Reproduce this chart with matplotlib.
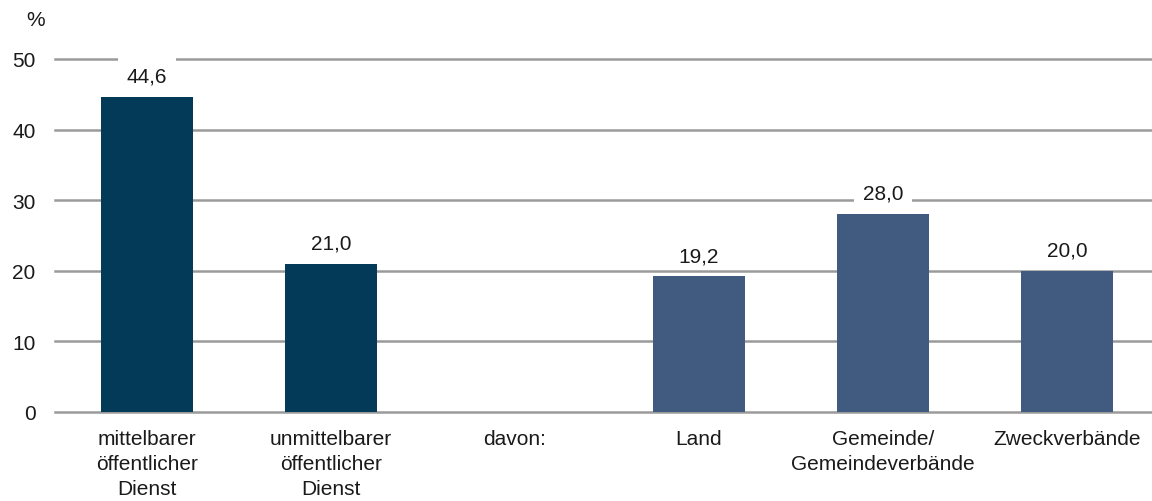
import numpy as np
import matplotlib.pyplot as plt
from matplotlib.patches import Rectangle

plt.rcParams['font.family'] = ['Liberation Sans', 'DejaVu Sans']

categories = ['mittelbarer\nöffentlicher\nDienst', 'unmittelbarer\nöffentlicher\nDienst',
              'davon:', 'Land', 'Gemeinde/\nGemeindeverbände', 'Zweckverbände']
values = [44.6, 21.0, np.nan, 19.2, 28.0, 20.0]
labels = ['44,6', '21,0', '', '19,2', '28,0', '20,0']
colors = ['#023a58', '#023a58', '#ffffff', '#415a80', '#415a80', '#415a80']
yticks = [0, 10, 20, 30, 40, 50]

fig = plt.figure(figsize=(11.52, 5.02), dpi=100)
ax = fig.add_axes([55 / 1152, 89 / 502, 1104 / 1152, 353 / 502])

x = np.arange(len(categories))
ax.bar(x, np.nan_to_num(values), width=0.495, color=colors, zorder=3)

for xi, v, lab in zip(x, values, labels):
    if lab:
        # white background behind the value label (cuts the gridlines)
        ax.add_patch(Rectangle((xi - 0.155, v + 1.3), 0.31, 4.5, fc='white', ec='none',
                               zorder=2, clip_on=False))
        ax.annotate(lab, (xi, v), xytext=(0, 15), textcoords='offset points',
                    ha='center', va='center', fontsize=15, color='#1a1a1a', zorder=4)

ax.set_xlim(-0.5, 5.5)
ax.set_ylim(0, 50)
ax.set_yticks(yticks)
ax.set_xticks(x)
ax.set_xticklabels(categories, fontsize=15, linespacing=1.4)
ax.tick_params(axis='y', length=0, pad=14, labelsize=15, labelcolor='#1a1a1a')
ax.tick_params(axis='x', length=0, pad=12, labelcolor='#1a1a1a')
ax.grid(axis='y', color='#9a9a9a', linewidth=1.8, zorder=1)
for gl in ax.get_ygridlines():
    gl.set_clip_on(False)
ax.set_axisbelow(True)
for s in ax.spines.values():
    s.set_visible(False)

fig.text(36 / 1152, 1 - 20 / 502, '%', ha='center', va='center', fontsize=15, color='#1a1a1a')

fig.savefig('out.png', dpi=100)
